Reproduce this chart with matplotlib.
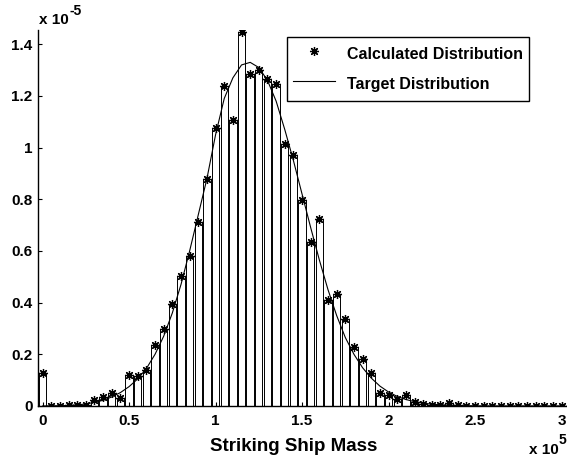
import numpy as np
import matplotlib.pyplot as plt

plt.rcParams['font.family'] = ['Liberation Sans', 'DejaVu Sans']
plt.rcParams['font.weight'] = 'bold'

# bin centres (ship mass) and values in units of 1e-5
mass = np.arange(0, 300001, 5000)
calculated = [
    0.126, 0.001, 0.001, 0.002, 0.002, 0.004, 0.023, 0.035, 0.051, 0.029,
    0.119, 0.117, 0.139, 0.237, 0.297, 0.396, 0.503, 0.581, 0.714, 0.880,
    1.075, 1.239, 1.108, 1.449, 1.284, 1.301, 1.265, 1.248, 1.015, 0.971,
    0.796, 0.634, 0.723, 0.410, 0.432, 0.335, 0.228, 0.182, 0.126, 0.051,
    0.042, 0.028, 0.041, 0.015, 0.006, 0.004, 0.003, 0.010, 0.002, 0.001,
    0.001, 0.0, 0.001, 0.0, 0.001, 0.0, 0.0, 0.001, 0.0, 0.0, 0.0,
]
target = [
    0.0, 0.0005, 0.001, 0.002, 0.004, 0.008, 0.014, 0.022, 0.035, 0.052,
    0.075, 0.105, 0.145, 0.200, 0.270, 0.360, 0.470, 0.600, 0.740, 0.880,
    1.050, 1.190, 1.270, 1.320, 1.330, 1.310, 1.260, 1.180, 1.070, 0.950,
    0.820, 0.690, 0.565, 0.450, 0.350, 0.265, 0.200, 0.148, 0.108, 0.077,
    0.054, 0.037, 0.025, 0.017, 0.011, 0.007, 0.0045, 0.003, 0.002, 0.001,
    0.0006, 0.0, 0.0, 0.0, 0.0, 0.0, 0.0, 0.0, 0.0, 0.0, 0.0,
]
scale = 1e-5
calculated = np.array(calculated) * scale
target = np.array(target) * scale

xticks = [0, 50000, 100000, 150000, 200000, 250000, 300000]
xticklabels = ['0', '0.5', '1', '1.5', '2', '2.5', '3']
yticks = np.arange(0, 1.41, 0.2) * scale
yticklabels = ['0', '0.2', '0.4', '0.6', '0.8', '1', '1.2', '1.4']

fig = plt.figure(figsize=(5.67, 4.59), dpi=100)
ax = fig.add_axes([0.0675, 0.1155, 0.9305, 0.819])

ax.bar(mass, calculated, width=0.85 * 5000, facecolor='white',
       edgecolor='black', linewidth=0.7)
ax.plot(mass, calculated, linestyle='none', marker=(8, 2, 0), markersize=6.5,
        markeredgewidth=0.9, color='black', label='Calculated Distribution')
ax.plot(mass, target, color='black', linewidth=0.8, label='Target Distribution')

ax.set_xlim(-2500, 302500)
ax.set_ylim(0, 1.455e-5)
ax.set_xticks(xticks)
ax.set_xticklabels(xticklabels)
ax.set_yticks(yticks)
ax.set_yticklabels(yticklabels)
ax.tick_params(direction='in', length=3.2, width=0.8, labelsize=11)
ax.tick_params(axis='x', pad=6)
ax.tick_params(axis='y', pad=4)
for lab in ax.get_xticklabels() + ax.get_yticklabels():
    lab.set_fontweight('bold')

ax.spines['top'].set_visible(False)
ax.spines['right'].set_visible(False)
ax.spines['left'].set_linewidth(1.0)
ax.spines['bottom'].set_linewidth(1.0)

ax.set_xlabel('Striking Ship Mass', fontsize=13.5, fontweight='bold')
ax.xaxis.set_label_coords(0.4836, -0.085)

# scale factors
fig.text(39 / 567, 1 - 24 / 459, 'x 10', fontsize=11, fontweight='bold',
         ha='left', va='baseline')
fig.text(69 / 567, 1 - 15 / 459, '-5', fontsize=10, fontweight='bold',
         ha='left', va='baseline')
fig.text(529 / 567, 1 - 454 / 459, 'x 10', fontsize=11, fontweight='bold',
         ha='left', va='baseline')
fig.text(559 / 567, 1 - 444 / 459, '5', fontsize=10, fontweight='bold',
         ha='left', va='baseline')

leg = ax.legend(loc='upper left', bbox_to_anchor=(0.4707, 0.982),
                borderaxespad=0,
                prop={'family': 'Liberation Sans', 'weight': 'bold', 'size': 11.5},
                handlelength=2.63, handleheight=1.75, labelspacing=0.5,
                handletextpad=0.75, borderpad=0.375, fancybox=False,
                framealpha=1, edgecolor='black')
leg.get_frame().set_linewidth(1.0)

fig.savefig('out.png', dpi=100)
